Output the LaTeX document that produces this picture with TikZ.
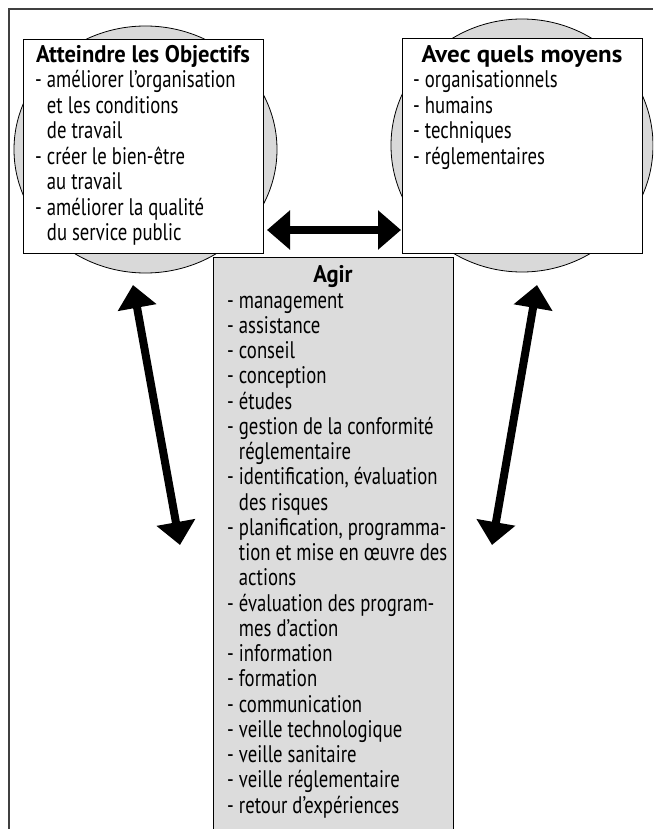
\documentclass[tikz,border=0pt]{standalone}
\usepackage{fontspec}
\setmainfont[FakeStretch=0.78]{PT Sans}
\newfontfamily\ttlfontA[FakeStretch=0.94]{PT Sans}
\newfontfamily\ttlfontB[FakeStretch=1.04]{PT Sans}
\usetikzlibrary{arrows.meta,shapes.geometric}
\definecolor{ellgrey}{HTML}{D9D9D9}
\definecolor{agirgrey}{HTML}{DCDCDC}
\definecolor{framegrey}{HTML}{404040}
\tikzset{
  ell/.style={ellipse, draw=black, line width=0.8pt, fill=ellgrey, inner sep=0pt},
  box/.style={rectangle, draw=black, line width=1pt, fill=white, inner sep=0pt, anchor=north west},
  agirbox/.style={rectangle, draw=black, line width=1pt, fill=agirgrey, inner sep=0pt, anchor=north west},
  txt/.style={inner sep=0pt, anchor=base west, font=\fontsize{24}{25.3}\selectfont},
  ttl/.style={inner sep=0pt, anchor=base, font=\fontsize{24}{25.3}\selectfont\ttlfontA\bfseries},
  ttlwide/.style={ttl, font=\fontsize{24}{25.3}\selectfont\ttlfontB\bfseries},
  bigarrow/.style={line width=8pt, {Triangle[width=38pt,length=23pt]}-{Triangle[width=38pt,length=23pt]}},
  framel/.style={draw=framegrey, line width=1.5pt}
}
\begin{document}
\begin{tikzpicture}[x=1pt,y=-1pt]
\useasboundingbox (0,0) rectangle (653,829);
\clip (0,0) rectangle (653,829);
% frame
\draw[framel] (9,829) -- (9,9) -- (653,9);
% ellipses
\node[ell, minimum width=263pt, minimum height=247pt] (lell) at (145.5,149.5) {};
\node[ell, minimum width=262pt, minimum height=253pt] (rell) at (522,145.5) {};
% boxes
\node[box, minimum width=240pt, minimum height=214pt] (lbox) at (23,39) {};
\node[box, minimum width=240pt, minimum height=215pt] (rbox) at (402,38) {};
\node[agirbox, minimum width=240pt, minimum height=590pt] (abox) at (213,257) {};
% titles
\node[ttl] (ltitle) at (143,63) {Atteindre les Objectifs};
\node[ttlwide] (rtitle) at (522,63) {Avec quels moyens};
\node[ttl] (atitle) at (333,282) {Agir};
% left list
\foreach \t [count=\i from 0] in {
  - améliorer l’organisation,
  \phantom{- }et les conditions,
  \phantom{- }de travail,
  - créer le bien-être,
  \phantom{- }au travail,
  - améliorer la qualité,
  \phantom{- }du service public}
  { \node[txt] (ll\i) at ({35},{88+25.4*\i}) {\t}; }
% right list
\foreach \t [count=\i from 0] in {
  - organisationnels,
  - humains,
  - techniques,
  - réglementaires}
  { \node[txt] (rl\i) at ({413},{88+25.4*\i}) {\t}; }
% agir list
\foreach \t [count=\i from 0] in {
  - management,
  - assistance,
  - conseil,
  - conception,
  - études,
  - gestion de la conformité,
  \phantom{- }réglementaire,
  {- identification, évaluation},
  \phantom{- }des risques,
  {- planification, programma-},
  \phantom{- }tion et mise en œuvre des,
  \phantom{- }actions,
  - évaluation des program-,
  \phantom{- }mes d’action,
  - information,
  - formation,
  - communication,
  - veille technologique,
  - veille sanitaire,
  - veille réglementaire,
  - retour d’expériences}
  { \node[txt] (al\i) at ({227},{308+25.25*\i}) {\t}; }
% arrows
\coordinate (hl) at (267,230);
\coordinate (hr) at (401,230);
\coordinate (la) at (133,285);
\coordinate (lb) at (180,545);
\coordinate (ra) at (537,285);
\coordinate (rb) at (492,545);
\draw[bigarrow] (hl) -- (hr);
\draw[bigarrow] (la) -- (lb);
\draw[bigarrow] (ra) -- (rb);
\end{tikzpicture}
\end{document}
